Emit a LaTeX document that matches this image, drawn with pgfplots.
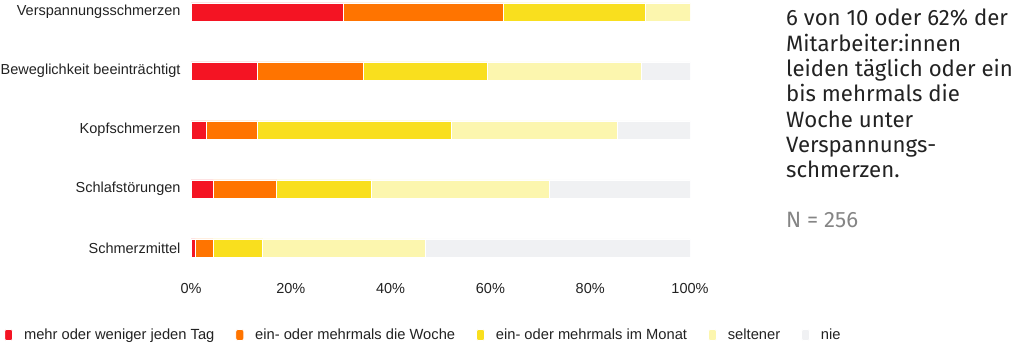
\documentclass[border=0pt]{standalone}
\usepackage{fontspec}
\setmainfont{Liberation Sans}
\newfontfamily\rightfont{Fira Sans}
\usepackage{pgfplots}
\pgfplotsset{compat=1.18}
\definecolor{cRed}{HTML}{F41423}
\definecolor{cOrange}{HTML}{FF7400}
\definecolor{cYellow}{HTML}{F9DF1E}
\definecolor{cLight}{HTML}{FCF6AE}
\definecolor{cGray}{HTML}{F0F1F3}
\definecolor{labelc}{HTML}{222222}
\definecolor{ngray}{HTML}{858585}
\begin{document}
\begin{tikzpicture}[x=1pt,y=1pt]
\useasboundingbox (0,0) rectangle (1024,-344);
\begin{axis}[
  at={(191pt,-0.2pt)}, anchor=north west,
  scale only axis, width=499pt, height=277.3pt,
  xmin=0, xmax=100, ymin=-0.5, ymax=4.2,
  xbar stacked, bar width=18pt,
  axis line style={draw=none}, major tick length=0pt,
  xtick={0,20,...,100}, xticklabel={\pgfmathprintnumber{\tick}\%},
  ytick={0,...,4},
  yticklabels={Schmerzmittel,Schlafstörungen,Kopfschmerzen,Beweglichkeit beeinträchtigt,Verspannungsschmerzen},
  tick label style={font=\fontsize{14.5}{16}\selectfont, text=labelc},
  yticklabel style={xshift=-7pt},
  xticklabel style={yshift=-2pt},
  /pgf/number format/assume math mode=true,
  every axis plot/.append style={draw=white, line width=0.8pt},
  legend columns=5,
  legend style={at={(-0.3747,-0.2074)}, anchor=west, draw=none, inner sep=0pt,
    font=\fontsize{14.7}{16}\selectfont, text=labelc,
    /tikz/every odd column/.append style={column sep=9pt},
    /tikz/every even column/.append style={column sep=19pt}},
  legend image code/.code={\fill[#1, rounded corners=2pt] (0pt,-5.5pt) rectangle (8pt,5.5pt);},
]
\addplot[fill=cRed] coordinates {(0.9,0) (4.5,1) (3.1,2) (13.4,3) (30.5,4)};
\addplot[fill=cOrange] coordinates {(3.5,0) (12.7,1) (10.3,2) (21.2,3) (32.1,4)};
\addplot[fill=cYellow] coordinates {(10.0,0) (18.9,1) (38.8,2) (24.8,3) (28.4,4)};
\addplot[fill=cLight] coordinates {(32.6,0) (35.8,1) (33.3,2) (30.8,3) (9.0,4)};
\addplot[fill=cGray] coordinates {(53.0,0) (28.1,1) (14.5,2) (9.8,3) (0,4)};
\legend{mehr oder weniger jeden Tag, ein- oder mehrmals die Woche, ein- oder mehrmals im Monat, seltener, nie}
\end{axis}
\begin{scope}[font=\rightfont\fontsize{22.2}{25}\selectfont, text=labelc]
\node[anchor=base west, inner sep=0pt] at (786,-26) {6 von 10 oder 62\% der};
\node[anchor=base west, inner sep=0pt] at (786,-52) {Mitarbeiter:innen};
\node[anchor=base west, inner sep=0pt] at (786,-77) {leiden täglich oder ein};
\node[anchor=base west, inner sep=0pt] at (786,-102) {bis mehrmals die};
\node[anchor=base west, inner sep=0pt] at (786,-128) {Woche unter};
\node[anchor=base west, inner sep=0pt] at (786,-153) {Verspannungs-};
\node[anchor=base west, inner sep=0pt] at (786,-178) {schmerzen.};
\node[anchor=base west, inner sep=0pt, text=ngray] at (786,-228) {N = 256};
\end{scope}
\end{tikzpicture}
\end{document}
